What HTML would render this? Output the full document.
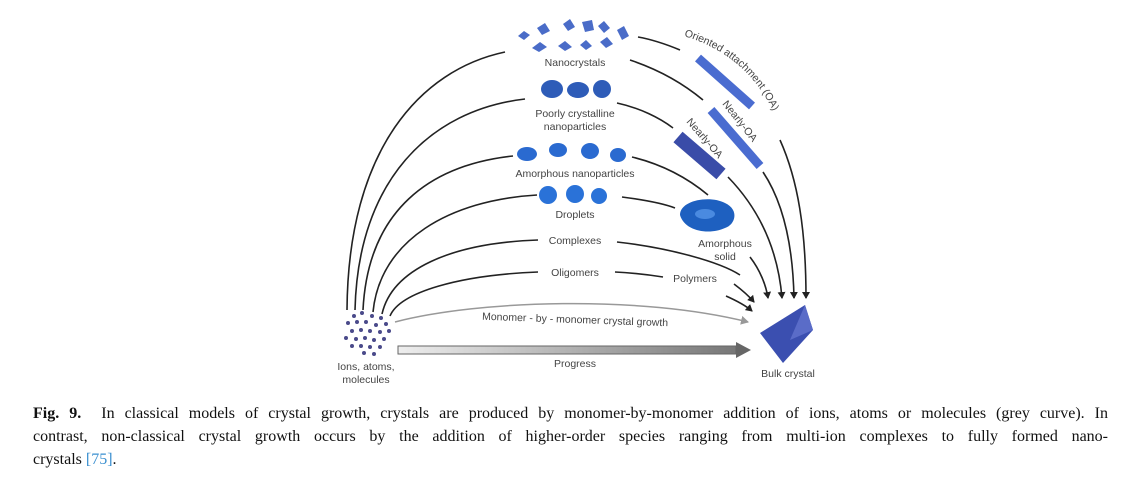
<!DOCTYPE html>
<html><head><meta charset="utf-8"><style>
body{margin:0;background:#fff;width:1131px;height:485px;overflow:hidden;position:relative}
.cap{position:absolute;left:33px;top:402px;width:1075px;font-family:"Liberation Serif",serif;font-size:16px;line-height:23px;color:#111}
.cap div{text-align:justify;text-align-last:justify;white-space:nowrap}
.cap div.l{text-align-last:left}
.cap b{font-weight:bold}
.cap span{color:#3a8fd0}
</style></head><body>
<svg width="1131" height="400" style="position:absolute;left:0;top:0" font-family="Liberation Sans, sans-serif">
<defs>
<marker id="a" markerWidth="8" markerHeight="8" refX="6" refY="4" orient="auto" markerUnits="userSpaceOnUse"><path d="M0,0 L7,4 L0,8 z" fill="#222"/></marker>
<marker id="g" markerWidth="9" markerHeight="9" refX="7" refY="4.5" orient="auto" markerUnits="userSpaceOnUse"><path d="M0,0 L8,4.5 L0,9 z" fill="#999"/></marker>
<linearGradient id="pg" x1="0" x2="1"><stop offset="0" stop-color="#eee"/><stop offset="1" stop-color="#777"/></linearGradient>
<path id="oa" d="M684,36 C730,50 768,80 788,150"/>
<path id="n1" d="M722,104 L768,162"/>
<path id="n2" d="M686,122 L728,170"/>
</defs>
<g fill="none" stroke="#222" stroke-width="1.6">
<path d="M347,310 C348,150 420,70 505,52"/>
<path d="M355,310 C358,180 430,110 525,99"/>
<path d="M363,310 C368,210 430,165 513,156"/>
<path d="M373,312 C380,240 450,200 537,195"/>
<path d="M382,314 C392,270 450,243 538,240"/>
<path d="M390,316 C400,292 460,275 538,272"/>
<path d="M638,37 C655,40 668,45 680,50"/>
<path d="M780,140 C798,180 806,230 806,298" marker-end="url(#a)"/>
<path d="M630,60 C660,70 685,85 703,100"/>
<path d="M763,172 C785,205 793,250 794,298" marker-end="url(#a)"/>
<path d="M728,177 C760,210 778,250 782,298" marker-end="url(#a)"/>
<path d="M617,103 C640,108 660,118 673,128"/>
<path d="M632,157 C665,165 690,180 708,195"/>
<path d="M622,197 C645,200 662,203 675,208"/>
<path d="M750,257 C760,270 766,285 768,298" marker-end="url(#a)"/>
<path d="M617,242 C670,248 720,262 740,275"/>
<path d="M615,272 C635,273 650,275 663,277"/>
<path d="M734,284 C742,290 748,295 754,302" marker-end="url(#a)"/>
<path d="M726,296 C735,300 745,305 752,311" marker-end="url(#a)"/>
</g>
<path d="M395,322 C480,300 640,295 748,322" fill="none" stroke="#999" stroke-width="1.5" marker-end="url(#g)"/>
<rect x="398" y="346" width="338" height="8" fill="url(#pg)" stroke="#666" stroke-width="1"/>
<path d="M736,342 L751,350 L736,358 z" fill="#666"/>
<g fill="#4a4a8a">
<circle cx="354" cy="316" r="2"/><circle cx="362" cy="313" r="2"/><circle cx="372" cy="316" r="2"/><circle cx="381" cy="318" r="2"/>
<circle cx="348" cy="323" r="2"/><circle cx="357" cy="322" r="2"/><circle cx="366" cy="322" r="2"/><circle cx="376" cy="325" r="2"/><circle cx="386" cy="324" r="2"/>
<circle cx="352" cy="331" r="2"/><circle cx="361" cy="330" r="2"/><circle cx="370" cy="331" r="2"/><circle cx="380" cy="332" r="2"/><circle cx="389" cy="331" r="2"/>
<circle cx="346" cy="338" r="2"/><circle cx="356" cy="339" r="2"/><circle cx="365" cy="338" r="2"/><circle cx="374" cy="340" r="2"/><circle cx="384" cy="339" r="2"/>
<circle cx="352" cy="346" r="2"/><circle cx="361" cy="346" r="2"/><circle cx="370" cy="347" r="2"/><circle cx="380" cy="347" r="2"/>
<circle cx="364" cy="353" r="2"/><circle cx="374" cy="354" r="2"/>
</g>
<polygon points="760,333 805,305 813,330 783,363" fill="#3b4fb0"/>
<polygon points="805,305 813,330 790,340" fill="#5a6cc8"/>
<g fill="#4a6cc8">
<polygon points="518,36 524,31 530,35 524,40"/><polygon points="537,28 545,23 550,31 542,35"/><polygon points="563,24 570,19 575,27 568,31"/>
<polygon points="582,22 592,20 594,30 585,32"/><polygon points="598,26 604,21 610,28 604,33"/><polygon points="617,30 624,26 629,36 622,40"/>
<polygon points="532,48 540,42 547,47 539,52"/><polygon points="558,46 565,41 572,47 565,51"/><polygon points="580,45 586,40 592,46 586,50"/><polygon points="600,42 607,37 613,44 606,48"/>
</g>
<g fill="#2e5cb8"><ellipse cx="552" cy="89" rx="11" ry="9"/><ellipse cx="578" cy="90" rx="11" ry="8"/><ellipse cx="602" cy="89" rx="9" ry="9"/></g>
<g fill="#2a6ad0"><ellipse cx="527" cy="154" rx="10" ry="7"/><ellipse cx="558" cy="150" rx="9" ry="7"/><ellipse cx="590" cy="151" rx="9" ry="8"/><ellipse cx="618" cy="155" rx="8" ry="7"/></g>
<g fill="#2a72d8"><circle cx="548" cy="195" r="9"/><circle cx="575" cy="194" r="9"/><circle cx="599" cy="196" r="8"/></g>
<path d="M680,215 C680,200 710,195 725,203 C740,210 735,225 725,228 C710,235 685,232 680,215 z" fill="#1e60c0"/>
<ellipse cx="705" cy="214" rx="10" ry="5" fill="#4a8ae0"/>
<line x1="698" y1="58" x2="752" y2="106" stroke="#4a6cd0" stroke-width="9"/>
<line x1="711" y1="110" x2="760" y2="166" stroke="#4a6cd0" stroke-width="9"/>
<line x1="678" y1="137" x2="721" y2="174" stroke="#3a4ca8" stroke-width="14"/>
<g font-size="10.5" fill="#444" text-anchor="middle">
<text x="575" y="66">Nanocrystals</text>
<text x="575" y="117">Poorly crystalline</text>
<text x="575" y="130">nanoparticles</text>
<text x="575" y="177">Amorphous nanoparticles</text>
<text x="575" y="218">Droplets</text>
<text x="575" y="244">Complexes</text>
<text x="575" y="276">Oligomers</text>
<text x="695" y="282">Polymers</text>
<text x="725" y="247">Amorphous</text>
<text x="725" y="260">solid</text>
<text x="575" y="323" transform="rotate(2 575 323)">Monomer - by - monomer crystal growth</text>
<text x="575" y="367">Progress</text>
<text x="366" y="370">Ions, atoms,</text>
<text x="366" y="383">molecules</text>
<text x="788" y="377">Bulk crystal</text>
<text><textPath href="#oa" text-anchor="start">Oriented attachment (OA)</textPath></text>
<text><textPath href="#n1" text-anchor="start">Nearly-OA</textPath></text>
<text><textPath href="#n2" text-anchor="start">Nearly-OA</textPath></text>
</g>
</svg>
<div class="cap">
<div><b>Fig. 9.</b>&nbsp; In classical models of crystal growth, crystals are produced by monomer-by-monomer addition of ions, atoms or molecules (grey curve). In</div>
<div>contrast, non-classical crystal growth occurs by the addition of higher-order species ranging from multi-ion complexes to fully formed nano-</div>
<div class="l">crystals <span>[75]</span>.</div>
</div>
</body></html>
